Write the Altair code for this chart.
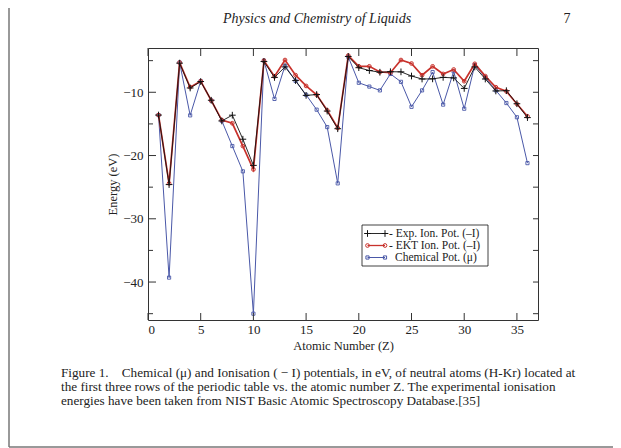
import altair as alt
import pandas as pd

# ---------------- data ----------------
Z = list(range(1, 37))
exp_ion = [-13.60, -24.59, -5.39, -9.32, -8.30, -11.26, -14.53, -13.62, -17.42, -21.56,
           -5.14, -7.65, -5.99, -8.15, -10.49, -10.36, -12.97, -15.76,
           -4.34, -6.11, -6.56, -6.83, -6.75, -6.77, -7.43, -7.90, -7.88, -7.64, -7.73, -9.39,
           -6.00, -7.90, -9.79, -9.75, -11.81, -14.00]
ekt_ion = [-13.6, -24.4, -5.3, -9.2, -8.25, -11.3, -14.4, -14.9, -18.5, -22.2,
           -5.0, -7.5, -4.9, -7.3, -9.0, -10.4, -12.85, -15.65,
           -4.2, -5.9, -5.9, -6.8, -6.9, -4.9, -5.45, -7.3, -5.9, -7.1, -6.4, -8.25,
           -5.5, -7.45, -9.2, -9.85, -11.85, -13.8]
chem_pot = [-13.6, -39.3, -5.3, -13.65, -8.25, -11.3, -14.5, -18.5, -22.5, -45.0,
            -5.0, -11.05, -5.8, -8.2, -10.4, -12.75, -15.5, -24.4,
            -4.4, -8.5, -9.1, -9.7, -7.1, -8.35, -12.3, -9.7, -6.8, -11.95, -6.7, -12.6,
            -5.7, -7.65, -9.7, -11.7, -13.95, -21.2]
x_ticks = [0, 5, 10, 15, 20, 25, 30, 35]
y_major = [-10, -20, -30, -40]
y_minor = [-5, -15, -25, -35, -45]
legend_labels = ["- Exp. Ion. Pot. (\u2013I)", "- EKT Ion. Pot. (\u2013I)", "Chemical Pot. (\u03bc)"]
header_text = "Physics and Chemistry of Liquids"
page_no = "7"
caption = [
    "Figure 1.\u00a0\u00a0\u00a0 Chemical (\u03bc) and Ionisation ( \u2212 I) potentials, in eV, of neutral atoms (H-Kr) located at",
    "the first three rows of the periodic table vs. the atomic number Z. The experimental ionisation",
    "energies have been taken from NIST Basic Atomic Spectroscopy Database.[35]",
]

# ---------------- styling ----------------
W, H = 390, 272
SERIF = "Liberation Serif"
RED = "#c8322c"
BLUE = "#4a58a8"
BLACK = "#111111"
FRAME = "#333333"
CROSS = "M-1,0L1,0M0,-1L0,1"

xs = alt.Scale(domain=[0, 37], nice=False, zero=False)
ys = alt.Scale(domain=[-46, -3], nice=False, zero=False)

df_exp = pd.DataFrame({"Z": Z, "E": exp_ion})
df_ekt = pd.DataFrame({"Z": Z, "E": ekt_ion})
df_chem = pd.DataFrame({"Z": Z, "E": chem_pot})

xaxis = alt.Axis(values=x_ticks, title="Atomic Number (Z)", tickSize=0, domain=False, grid=False,
                 labelFont=SERIF, labelFontSize=13, labelColor="#222", labelPadding=3,
                 titleFont=SERIF, titleFontSize=12.5, titleFontWeight="normal", titleColor="#222",
                 titlePadding=3)
yaxis = alt.Axis(values=y_major, title="Energy (eV)", tickSize=0, domain=False, grid=False,
                 labelFont=SERIF, labelFontSize=13, labelColor="#222", labelPadding=5,
                 titleFont=SERIF, titleFontSize=12.5, titleFontWeight="normal", titleColor="#222",
                 titlePadding=3)


def X(field):
    return alt.X(field, scale=xs, axis=xaxis)


def Y(field):
    return alt.Y(field, scale=ys, axis=yaxis)


def series(df, color, width, shape, size, sw):
    line = alt.Chart(df).mark_line(color=color, strokeWidth=width).encode(x=X("Z:Q"), y=Y("E:Q"))
    pts = alt.Chart(df).mark_point(shape=shape, size=size, color=color, filled=False,
                                   strokeWidth=sw, opacity=1).encode(x=X("Z:Q"), y=Y("E:Q"))
    return [line, pts]


layers = []
layers += series(df_chem, BLUE, 1.0, "square", 10, 0.9)
layers += series(df_ekt, RED, 1.7, "circle", 14, 1.0)
layers += series(df_exp, BLACK, 0.9, CROSS, 45, 1.0)


# inward ticks on all four sides
def xt(vals, y1, y2):
    return alt.Chart(pd.DataFrame({"Z": vals})).mark_rule(color=FRAME, strokeWidth=1).encode(
        x=X("Z:Q"), y=alt.value(y1), y2=alt.value(y2))


def yt(vals, x1, x2):
    return alt.Chart(pd.DataFrame({"E": vals})).mark_rule(color=FRAME, strokeWidth=1).encode(
        y=Y("E:Q"), x=alt.value(x1), x2=alt.value(x2))


layers += [xt(x_ticks, H, H - 7), xt(x_ticks, 0, 8),
           yt(y_major, 0, 8), yt(y_minor, 0, 5), yt(y_major + y_minor, W, W - 5)]

one = pd.DataFrame({"a": [0]})


def txt(t, x, y, size=13, align="left", style="normal", color="#222"):
    return alt.Chart(one).mark_text(text=t, font=SERIF, fontSize=size, align=align,
                                    baseline="middle", fontStyle=style, color=color).encode(
        x=alt.value(x), y=alt.value(y))


def hline(x1, x2, y, color, w):
    return alt.Chart(one).mark_rule(color=color, strokeWidth=w).encode(
        x=alt.value(x1), x2=alt.value(x2), y=alt.value(y))


# legend box
LX1, LX2, LY1, LY2 = 214, 340, 177, 218
layers.append(alt.Chart(one).mark_rect(fill="white", stroke=BLACK, strokeWidth=0.8).encode(
    x=alt.value(LX1), x2=alt.value(LX2), y=alt.value(LY1), y2=alt.value(LY2)))
rows = [185.5, 197.5, 209.5]
sym = [(BLACK, CROSS, 45, 0.9), (RED, "circle", 14, 1.3), (BLUE, "square", 10, 1.0)]
for i, (c, shp, sz, lw) in enumerate(sym):
    layers.append(hline(219.5, 237, rows[i], c, lw))
    for px in (219.5, 237):
        layers.append(alt.Chart(one).mark_point(shape=shp, size=sz, color=c, filled=False,
                                                strokeWidth=1, opacity=1).encode(
            x=alt.value(px), y=alt.value(rows[i])))
layers.append(txt(legend_labels[0], 241, rows[0], 11.5))
layers.append(txt(legend_labels[1], 241, rows[1], 11.5))
layers.append(txt(legend_labels[2], 247, rows[2], 11.5))

# page furniture
layers.append(txt(header_text, 169, -29, 14, "center", "italic"))
layers.append(txt(page_no, 419, -29, 14, "center"))
for i, line in enumerate(caption):
    layers.append(txt(line, -87, 325 + 14 * i, 13.2))
layers.append(alt.Chart(one).mark_rule(color="#777", strokeWidth=1.5).encode(
    x=alt.value(-139), y=alt.value(-40), y2=alt.value(399)))
layers.append(hline(-139, 465, 399, "#777", 1.5))

chart = alt.layer(*layers).properties(
    width=W, height=H,
    autosize=alt.AutoSizeParams(type="none"),
    padding={"left": 140, "top": 40, "right": 75, "bottom": 128},
    background="white",
).configure_view(stroke=FRAME, strokeWidth=1)

chart.save("out.html", embed_options={"renderer": "svg", "actions": False})
